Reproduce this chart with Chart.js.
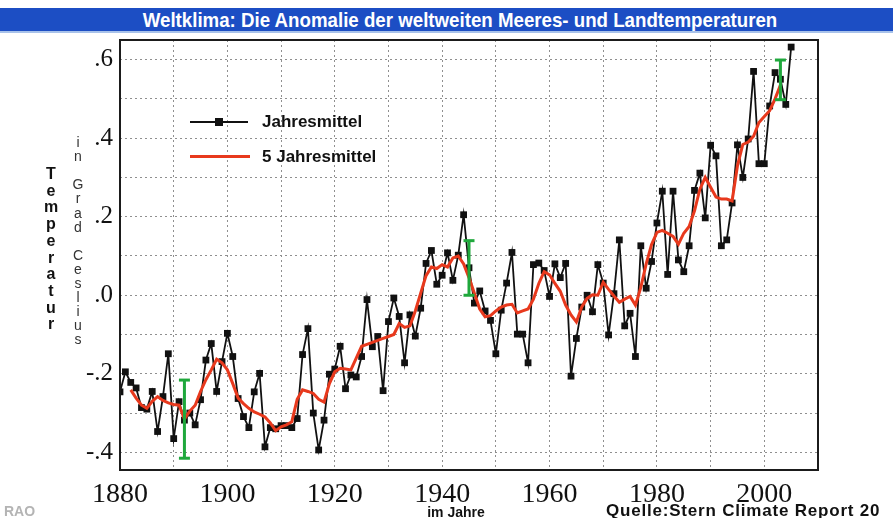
<!DOCTYPE html>
<html>
<head>
<meta charset="utf-8">
<script src="https://cdn.jsdelivr.net/npm/chart.js@4.4.0/dist/chart.umd.min.js"></script>
<style>
  html, body { margin: 0; padding: 0; background: #fff; }
  #wrap { position: relative; width: 895px; height: 518px; overflow: hidden; font-family: 'Liberation Sans', Arial, sans-serif; }
  #chart { position: absolute; left: 0; top: 0; }
  .title-bar { position: absolute; left: 0; top: 8px; width: 893px; height: 23px; background: #1c4ec4; border-bottom: 2px solid #a8c2ea; }
  .title-bar span { position: absolute; left: 460px; top: 0px; white-space: nowrap; color: #fff; font-weight: bold; font-size: 21px; line-height: 23px; transform: translateX(-50%) scaleX(0.89); }
  .stack { position: absolute; text-align: center; width: 20px; }
  .stack div { position: absolute; left: 0; width: 20px; }
  .legend-line { position: absolute; }
  .legend-text { position: absolute; font-weight: bold; font-size: 17px; line-height: 20px; color: #111; white-space: nowrap; }
  .foot { position: absolute; font-weight: bold; font-size: 14px; line-height: 14px; white-space: nowrap; }
</style>
</head>
<body>
<div id="wrap">
  <canvas id="chart" width="895" height="518"></canvas>
  <div class="title-bar"><span>Weltklima: Die Anomalie der weltweiten Meeres- und Landtemperaturen</span></div>
  <div class="stack" id="ytitle1"></div>
  <div class="stack" id="ytitle2"></div>

  <div class="legend-line" style="left:190px; top:121px; width:58px; height:2px; background:#111;"></div>
  <div class="legend-line" style="left:215px; top:118px; width:8px; height:8px; background:#111;"></div>
  <div class="legend-text" style="left:262px; top:112px;">Jahresmittel</div>
  <div class="legend-line" style="left:190px; top:155px; width:60px; height:3px; background:#e8391d;"></div>
  <div class="legend-text" style="left:262px; top:147px;">5 Jahresmittel</div>

  <div class="foot" style="left:4px; top:504px; color:#b4b4b4;">RAO</div>
  <div class="foot" style="left:456px; top:505px; color:#111; transform:translateX(-50%);">im Jahre</div>
  <div class="foot" style="left:606px; top:503px; color:#111; font-size:17px; line-height:15px; letter-spacing:0.8px;">Quelle:Stern Climate Report 20</div>
</div>
<script>
// Jahresmittel, 1880 - 2005
const firstYear = 1880;
const annualMean = [
  -0.246, -0.195, -0.222, -0.236, -0.286, -0.290, -0.245, -0.347, -0.258, -0.149,
  -0.365, -0.271, -0.318, -0.300, -0.330, -0.266, -0.165, -0.123, -0.245, -0.169,
  -0.097, -0.156, -0.263, -0.309, -0.337, -0.246, -0.199, -0.386, -0.337, -0.340,
  -0.332, -0.332, -0.337, -0.314, -0.151, -0.085, -0.300, -0.394, -0.318, -0.201,
  -0.188, -0.130, -0.238, -0.203, -0.208, -0.156, -0.011, -0.131, -0.105, -0.243,
  -0.067, -0.007, -0.054, -0.172, -0.050, -0.104, -0.033, 0.081, 0.114, 0.028,
  0.051, 0.108, 0.038, 0.102, 0.205, 0.070, -0.020, 0.011, -0.040, -0.064,
  -0.149, -0.038, 0.031, 0.109, -0.099, -0.099, -0.172, 0.078, 0.082, 0.063,
  -0.003, 0.080, 0.045, 0.081, -0.206, -0.110, -0.030, 0.000, -0.042, 0.078,
  0.031, -0.101, 0.004, 0.141, -0.078, -0.046, -0.156, 0.126, 0.018, 0.086,
  0.184, 0.265, 0.053, 0.265, 0.090, 0.060, 0.126, 0.267, 0.311, 0.197,
  0.382, 0.355, 0.126, 0.141, 0.235, 0.383, 0.300, 0.398, 0.570, 0.335,
  0.335, 0.482, 0.567, 0.550, 0.486, 0.632
];

// 5 Jahresmittel, 1882 - 2003
const smoothFirstYear = 1882;
const fiveYearMean = [
  -0.241, -0.262, -0.280, -0.288, -0.270, -0.258, -0.268, -0.274,
  -0.278, -0.280, -0.315, -0.295, -0.280, -0.245, -0.215, -0.190, -0.163, -0.172,
  -0.190, -0.225, -0.262, -0.276, -0.288, -0.297, -0.303, -0.310, -0.325, -0.345,
  -0.335, -0.330, -0.322, -0.265, -0.241, -0.245, -0.250, -0.265, -0.272, -0.225,
  -0.195, -0.186, -0.188, -0.190, -0.160, -0.130, -0.125, -0.120, -0.115, -0.110,
  -0.105, -0.100, -0.072, -0.082, -0.078, -0.040, 0.005, 0.050, 0.072, 0.068,
  0.078, 0.072, 0.095, 0.100, 0.080, 0.045, 0.005, -0.035, -0.055, -0.052,
  -0.040, -0.030, -0.025, -0.023, -0.045, -0.040, -0.035, -0.010, 0.030, 0.060,
  0.052, 0.030, 0.010, -0.025, -0.050, -0.068, -0.030, -0.008, 0.001, 0.000,
  0.033, 0.015, -0.002, -0.018, -0.010, -0.003, -0.025, 0.020, 0.080, 0.129,
  0.160, 0.165, 0.158, 0.150, 0.130, 0.158, 0.175, 0.215, 0.270, 0.300,
  0.275, 0.250, 0.245, 0.245, 0.240, 0.330, 0.384, 0.390, 0.405, 0.440,
  0.455, 0.470, 0.500, 0.535
];

// green uncertainty bars
const errYears = [1892, 1945, 2003];
const errLow = [-0.415, 0.000, 0.498];
const errHigh = [-0.216, 0.139, 0.599];

// axes
const xGridYears = [1880, 1890, 1900, 1910, 1920, 1930, 1940, 1950, 1960, 1970, 1980, 1990, 2000, 2010];
const xTickLabels = [1880, 1900, 1920, 1940, 1960, 1980, 2000];
const yGridValues = [-0.4, -0.3, -0.2, -0.1, 0, 0.1, 0.2, 0.3, 0.4, 0.5, 0.6];
const yTickValues = [0.6, 0.4, 0.2, 0, -0.2, -0.4];
const yTickTexts = ['.6', '.4', '.2', '.0', '-.2', '-.4'];

// stacked axis titles
function stackLetters(id, text, left, top, step, style) {
  const box = document.getElementById(id);
  box.style.left = left + 'px';
  box.style.top = top + 'px';
  [...text].forEach((ch, i) => {
    const d = document.createElement('div');
    d.textContent = ch;
    d.style.top = (i * step) + 'px';
    Object.assign(d.style, style);
    box.appendChild(d);
  });
}
stackLetters('ytitle1', 'Temperatur', 41, 165, 16.7, {fontWeight: 'bold', fontSize: '16px', lineHeight: '18px', color: '#111'});
stackLetters('ytitle2', 'in Grad Ceslius', 68, 134, 14.1, {fontSize: '14px', lineHeight: '17px', color: '#333'});

const framePlugin = {
  id: 'frame',
  afterDatasetsDraw(chart) {
    const a = chart.chartArea;
    const ctx = chart.ctx;
    ctx.save();
    ctx.strokeStyle = '#1b1b1b';
    ctx.lineWidth = 2;
    ctx.strokeRect(a.left, a.top, a.right - a.left, a.bottom - a.top);
    ctx.restore();
  }
};

const ctx = document.getElementById('chart').getContext('2d');
new Chart(ctx, {
  type: 'line',
  data: {
    datasets: [
      {
        label: 'Fehlerbalken',
        data: errYears.flatMap((yr, i) => [{x: yr, y: errLow[i]}, {x: yr, y: errHigh[i]}, {x: yr, y: null}]),
        borderColor: '#1fa83c',
        borderWidth: 3,
        pointStyle: 'line',
        pointRadius: 5.5,
        pointBorderColor: '#1fa83c',
        pointBorderWidth: 3,
        spanGaps: false,
        order: 0
      },
      {
        label: '5 Jahresmittel',
        data: fiveYearMean.map((v, i) => ({x: smoothFirstYear + i, y: v})),
        borderColor: '#e8391d',
        borderWidth: 3,
        pointRadius: 0,
        tension: 0,
        order: 1
      },
      {
        label: 'Jahresmittel',
        data: annualMean.map((v, i) => ({x: firstYear + i, y: v})),
        borderColor: '#111',
        borderWidth: 1.8,
        pointStyle: 'rect',
        pointRadius: 4.8,
        pointBackgroundColor: '#111',
        pointBorderColor: '#111',
        pointBorderWidth: 0,
        tension: 0,
        order: 2
      }
    ]
  },
  options: {
    responsive: false,
    animation: false,
    layout: { padding: { top: 40, right: 77, bottom: 0, left: 0 } },
    plugins: {
      legend: { display: false },
      tooltip: { enabled: false }
    },
    scales: {
      x: {
        type: 'linear',
        min: 1880,
        max: 2010,
        afterBuildTicks: (s) => { s.ticks = xGridYears.map(v => ({value: v})); },
        afterFit: (s) => { s.height = 48; },
        grid: { color: '#8f8f8f', lineWidth: 1, drawTicks: false },
        border: { display: false, dash: [2, 3] },
        ticks: {
          autoSkip: false,
          maxRotation: 0,
          padding: 8,
          color: '#111',
          font: { family: 'Liberation Serif', size: 28 },
          callback: (v) => xTickLabels.includes(v) ? String(v) : ''
        }
      },
      y: {
        min: -0.445,
        max: 0.65,
        afterBuildTicks: (s) => { s.ticks = yGridValues.map(v => ({value: v})); },
        afterFit: (s) => { s.width = 120; },
        grid: { color: '#8f8f8f', lineWidth: 1, drawTicks: false },
        border: { display: false, dash: [2, 3] },
        ticks: {
          padding: 7,
          color: '#111',
          font: { family: 'Liberation Serif', size: 25 },
          callback: (v) => {
            const i = yTickValues.findIndex(t => Math.abs(t - v) < 1e-6);
            return i >= 0 ? yTickTexts[i] : '';
          }
        }
      }
    }
  },
  plugins: [framePlugin]
});
</script>
</body>
</html>
